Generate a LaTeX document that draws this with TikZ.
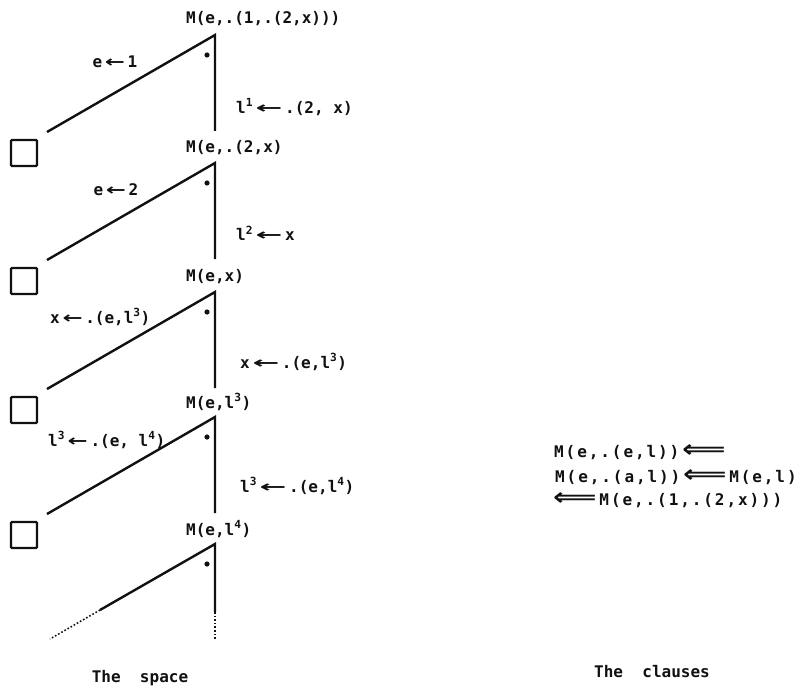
\documentclass[tikz,border=0pt]{standalone}
\usepackage{fontspec}
\setmonofont{DejaVu Sans Mono}
\newfontfamily\symfont{DejaVu Sans}
\newfontfamily\clausefont{DejaVu Sans Mono}[LetterSpace=12]
\usetikzlibrary{calc}
\definecolor{Ink}{HTML}{111111}
\newcommand{\la}{\,\scalebox{1.5}[1]{\symfont ←}\,}
\newcommand{\lla}{\,\scalebox{2}[1]{\symfont ←}\,}
\newcommand{\LA}{\scalebox{1.9}[1.5]{\symfont ⟸}}
\newcommand{\up}[1]{\textsuperscript{#1}}
\tikzset{
  txt/.style={font=\ttfamily\bfseries\fontsize{16}{19}\selectfont,inner sep=0pt,text=Ink},
  clause/.style={txt,font=\clausefont\bfseries\fontsize{16}{19}\selectfont},
  wire/.style={Ink,line width=2.4pt},
  dots/.style={Ink,line width=1.6pt,dotted},
  goalbox/.style={draw=Ink,line width=2.4pt,minimum size=26pt,inner sep=0pt,rounded corners=1pt}
}

\begin{document}
\begin{tikzpicture}[x=1pt,y=-1pt]
\useasboundingbox (0,0) rectangle (799,687);
% the space: one goal per level
\foreach \i/\y in {1/35,2/163,3/292,4/417,5/544} {
  \coordinate (a\i) at (215,\y);
  \fill[Ink] ($(a\i)+(-8,20)$) circle[radius=2.6pt];
}
\foreach \i/\y in {1/35,2/163,3/292,4/417} {
  \coordinate (v\i) at (215,\y+96);
  \coordinate (d\i) at (47,\y+97);
  \node[goalbox] (b\i) at (24,\y+118) {};
  \draw[wire] (d\i) -- (a\i) -- (v\i);
}
% last level fades out
\coordinate (v5) at (215,612);
\coordinate (w5) at (215,640);
\coordinate (d5) at (100,610);
\coordinate (e5) at (50,639);
\draw[wire] (d5) -- (a5) -- (v5);
\draw[dots] (d5) -- (e5);
\draw[dots] (v5) -- (w5);
\node[txt,anchor=west] (m1) at (186,19) {M(e,.(1,.(2,x)))};
\node[txt,anchor=west] (m2) at (186,148) {M(e,.(2,x)};
\node[txt,anchor=west] (m3) at (186,277) {M(e,x)};
\node[txt,anchor=west] (m4) at (186,402) {M(e,l\up{3})};
\node[txt,anchor=west] (m5) at (186,529) {M(e,l\up{4})};
% left branch labels
\node[txt] (p1) at (115,62) {e\la 1};
\node[txt] (p2) at (116,190) {e\la 2};
\node[txt,anchor=west] (p3) at (50,317) {x\la.(e,l\up{3})};
\node[txt,anchor=west] (p4) at (48,440) {l\up{3}\la.(e, l\up{4})};
% right branch labels
\node[txt,anchor=west] (q1) at (236,107) {l\up{1}\lla.(2, x)};
\node[txt,anchor=west] (q2) at (236,233) {l\up{2}\lla x};
\node[txt,anchor=west] (q3) at (240,362) {x\lla.(e,l\up{3})};
\node[txt,anchor=west] (q4) at (240,486) {l\up{3}\lla.(e,l\up{4})};
% the clauses
\node[clause,anchor=west] (c1) at (554,452) {M(e,.(e,l))\,\LA};
\node[clause,anchor=west] (c2) at (555,477) {M(e,.(a,l))\,\LA\,M(e,l)};
\node[clause,anchor=west] (c3) at (553,500) {\LA\,M(e,.(1,.(2,x)))};
\node[txt] (t1) at (140,678) {The~~space};
\node[txt] (t2) at (652,672) {The~~clauses};
\end{tikzpicture}
\end{document}
